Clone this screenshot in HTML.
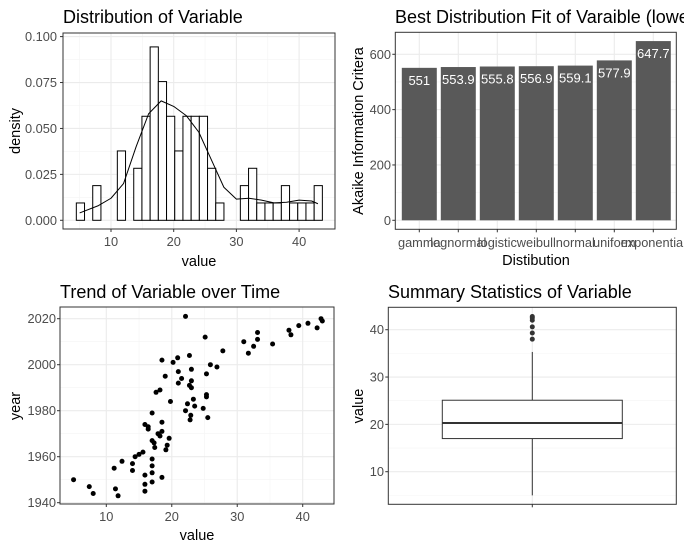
<!DOCTYPE html>
<html><head><meta charset="utf-8"><style>
body{margin:0;background:#fff;overflow:hidden;}
svg{display:block;font-family:"Liberation Sans",Arial,sans-serif;}
.tick{font-size:12.8px;fill:#4d4d4d;}
.ttl{font-size:18px;fill:#000;}
.axt{font-size:14.5px;fill:#000;}
</style></head><body>
<svg id="c" width="684" height="550" xmlns="http://www.w3.org/2000/svg"></svg>
<script>
// ---- Histogram data ----
const histBinStart = 4.47;
const histBinWidth = 1.308;
const histCounts = [1,0,2,0,0,4,0,3,6,10,8,6,4,6,6,6,3,1,0,0,2,3,1,1,1,2,1,1,1,2];
const histN = 81;
const densX = [5,8,10,12,14,16,18,20,22,24,26,28,30,32,34,36,38,40,42,43];
const densY = [0.004,0.008,0.012,0.02,0.04,0.058,0.065,0.062,0.057,0.048,0.033,0.018,0.0115,0.012,0.011,0.0095,0.0098,0.011,0.0105,0.009];
const histYTicks = ["0.000","0.025","0.050","0.075","0.100"];
const histXTicks = [10,20,30,40];
// ---- Bar chart data ----
const distNames = ["gamma","lognormal","logistic","weibull","normal","uniform","exponential"];
const aicValues = [551,553.9,555.8,556.9,559.1,577.9,647.7];
const aicLabels = ["551","553.9","555.8","556.9","559.1","577.9","647.7"];
const barYTicks = [0,200,400,600];
// ---- Scatter data ----
const scatValue = [5,7.4,8,11.4,11.8,11.2,12.4,14,14,14.4,15,15.6,15.9,15.9,15.9,17,17,17,17,17,15.9,16.4,16.4,17,17.3,17.4,17.9,18.2,18.5,18.5,18.5,19.1,19.3,19.6,18.5,18.2,17.6,19,19.8,20.2,20.9,21,21.5,21,22.1,22.1,22.4,22.7,22.7,23,23,23,22.9,22.8,23.3,23.5,24.8,25.1,25.3,25.3,25.3,25.5,25.9,26.9,27.8,31,31.7,32.5,33.1,33.1,35.4,37.9,38.2,39.4,40.8,42.2,42.8,43];
const scatYear = [1950,1947,1944,1946,1943,1955,1958,1957,1954,1960,1961,1962,1952,1948,1945,1959,1956,1953,1949,1979,1974,1973,1972,1967,1966,1964,1970,1969,1971,1975,1951,1963,1965,1968,2002,1989,1988,1995,1984,2001,2003,1997,1994,1992,2021,1980,1983,2004,1991,1990,1998,1993,1978,1976,1985,1982,1981,2012,1996,1987,1986,1977,2000,1999,2006,2010,2005,2008,2014,2011,2009,2015,2013,2017,2018,2016,2020,2019];
const scatXTicks = [10,20,30,40];
const scatYTicks = [1940,1960,1980,2000,2020];
// ---- Boxplot data ----
const boxStats = {min:5, q1:17.0, med:20.3, q3:25.1, max:35.3};
const boxOutliers = [38,39.3,40.6,42,42.5,42.8];
const boxYTicks = [10,20,30,40];

const svg = document.getElementById('c');
const NS = 'http://www.w3.org/2000/svg';
function mk(tag, attrs, parent){const e=document.createElementNS(NS,tag);for(const k in attrs)e.setAttribute(k,attrs[k]);(parent||svg).appendChild(e);return e;}
function txt(x,y,s,cls,anchor,parent,rot){const t=mk('text',{x:x,y:y,class:cls,'text-anchor':anchor||'start'},parent);if(rot)t.setAttribute('transform','rotate(-90 '+x+' '+y+')');t.textContent=s;return t;}
function hline(g,x1,x2,y,c,w){mk('line',{x1:x1,x2:x2,y1:y,y2:y,stroke:c,'stroke-width':w},g);}
function vline(g,x,y1,y2,c,w){mk('line',{x1:x,x2:x,y1:y1,y2:y2,stroke:c,'stroke-width':w},g);}
const MAJ='#ebebeb', MIN='#f4f4f4';

// ===== Panel 1: histogram =====
(function(){
const g=mk('g',{});


const L=63,R=335,T=33,B=229;
const sx=v=>111+(v-10)*6.27, sy=d=>220.3-d*1837;
[5,15,25,35].forEach(v=>vline(g,sx(v),T,B,MIN,0.6));
[0.0125,0.0375,0.0625,0.0875].forEach(v=>hline(g,L,R,sy(v),MIN,0.6));
histXTicks.forEach(v=>vline(g,sx(v),T,B,MAJ,1.1));
histYTicks.forEach(v=>hline(g,L,R,sy(+v),MAJ,1.1));
histCounts.forEach((c,i)=>{
  if(!c) return;
  const d=c/(histN*histBinWidth);
  const x0=sx(histBinStart+i*histBinWidth), x1=sx(histBinStart+(i+1)*histBinWidth);
  const r=mk('rect',{x:x0,y:sy(d),width:x1-x0,height:sy(0)-sy(d),fill:'#fff',stroke:'#000','stroke-width':1},g);
  
  
});
const p=mk('path',{d:densX.map((v,i)=>(i?'L':'M')+sx(v)+','+sy(densY[i])).join(' '),fill:'none',stroke:'#000','stroke-width':1,'stroke-linejoin':'round'},g);


mk('rect',{x:L,y:T,width:R-L,height:B-T,fill:'none',stroke:'#333','stroke-width':1},g);
histYTicks.forEach(v=>{hline(g,L-3,L,sy(+v),'#333',1);txt(57,sy(+v)+4.5,v,'tick','end',g);});
histXTicks.forEach(v=>{vline(g,sx(v),B,B+3,'#333',1);txt(sx(v),246,String(v),'tick','middle',g);});
txt(63,23,'Distribution of Variable','ttl','start',g);
txt(199,266,'value','axt','middle',g);
txt(20,131,'density','axt','middle',g,true);
})();

// ===== Panel 2: bar chart =====
(function(){
const g=mk('g',{});


const L=395.3,R=676.3,T=32.3,B=229.3;
const sy=v=>220.3-v*0.2767;
const sx=i=>419.3+i*39;
[100,300,500].forEach(v=>hline(g,L,R,sy(v),MIN,0.6));
barYTicks.forEach(v=>hline(g,L,R,sy(v),MAJ,1.1));
distNames.forEach((n,i)=>vline(g,sx(i),T,B,MAJ,1.1));
aicValues.forEach((v,i)=>{
  const r=mk('rect',{x:sx(i)-17.5,y:sy(v),width:35,height:sy(0)-sy(v),fill:'#595959'},g);
  
  
  const t=txt(sx(i),sy(v)+17,aicLabels[i],'tick','middle',g);
  t.setAttribute('style','fill:#fff;font-size:13px');
});
mk('rect',{x:L,y:T,width:R-L,height:B-T,fill:'none',stroke:'#333','stroke-width':1},g);
barYTicks.forEach(v=>{hline(g,L-3,L,sy(v),'#333',1);txt(391,sy(v)+4.5,String(v),'tick','end',g);});
distNames.forEach((n,i)=>{vline(g,sx(i),B,B+3,'#333',1);txt(sx(i),247,n,'tick','middle',g);});
txt(395,23,'Best Distribution Fit of Varaible (lowest AIC)','ttl','start',g);
txt(536,265,'Distibution','axt','middle',g);
txt(363,131,'Akaike Information Critera','axt','middle',g,true);
})();

// ===== Panel 3: scatter =====
(function(){
const g=mk('g',{});


const L=60,R=334,T=307,B=504;
const sx=v=>106.3+(v-10)*6.547, sy=y=>502.7-(y-1940)*2.3;
[15,25,35].forEach(v=>vline(g,sx(v),T,B,MIN,0.6));
[1950,1970,1990,2010].forEach(v=>hline(g,L,R,sy(v),MIN,0.6));
scatXTicks.forEach(v=>vline(g,sx(v),T,B,MAJ,1.1));
scatYTicks.forEach(v=>hline(g,L,R,sy(v),MAJ,1.1));
scatValue.forEach((v,i)=>{
  const c=mk('circle',{cx:sx(v),cy:sy(scatYear[i]),r:2.5,fill:'#000'},g);
  
  
});
mk('rect',{x:L,y:T,width:R-L,height:B-T,fill:'none',stroke:'#333','stroke-width':1},g);
scatYTicks.forEach(v=>{hline(g,L-3,L,sy(v),'#333',1);txt(56,sy(v)+4.5,String(v),'tick','end',g);});
scatXTicks.forEach(v=>{vline(g,sx(v),B,B+3,'#333',1);txt(sx(v),521,String(v),'tick','middle',g);});
txt(60,298,'Trend of Variable over Time','ttl','start',g);
txt(197,540,'value','axt','middle',g);
txt(20,406,'year','axt','middle',g,true);
})();

// ===== Panel 4: boxplot =====
(function(){
const g=mk('g',{});


const L=388.3,R=676.3,T=307.3,B=504.3;
const sy=v=>471.7-(v-10)*4.733;
const cx=532.3;
[5,15,25,35].forEach(v=>hline(g,L,R,sy(v),MIN,0.6));
boxYTicks.forEach(v=>hline(g,L,R,sy(v),MAJ,1.1));
vline(g,cx,T,B,MAJ,1.1);
vline(g,cx,sy(boxStats.min),sy(boxStats.q1),'#333',1);
vline(g,cx,sy(boxStats.q3),sy(boxStats.max),'#333',1);
const b=mk('rect',{x:442.3,y:sy(boxStats.q3),width:180,height:sy(boxStats.q1)-sy(boxStats.q3),fill:'#fff',stroke:'#333','stroke-width':1},g);


hline(g,442.3,622.3,sy(boxStats.med),'#333',2);
boxOutliers.forEach(v=>{
  const c=mk('circle',{cx:cx,cy:sy(v),r:2.5,fill:'#333'},g);
  
  
});
mk('rect',{x:L,y:T,width:R-L,height:B-T,fill:'none',stroke:'#333','stroke-width':1},g);
boxYTicks.forEach(v=>{hline(g,L-3,L,sy(v),'#333',1);txt(384,sy(v)+4.5,String(v),'tick','end',g);});
vline(g,cx,B,B+3,'#333',1);
txt(388,298,'Summary Statistics of Variable','ttl','start',g);
txt(363,406,'value','axt','middle',g,true);
})();
</script>
</body></html>
